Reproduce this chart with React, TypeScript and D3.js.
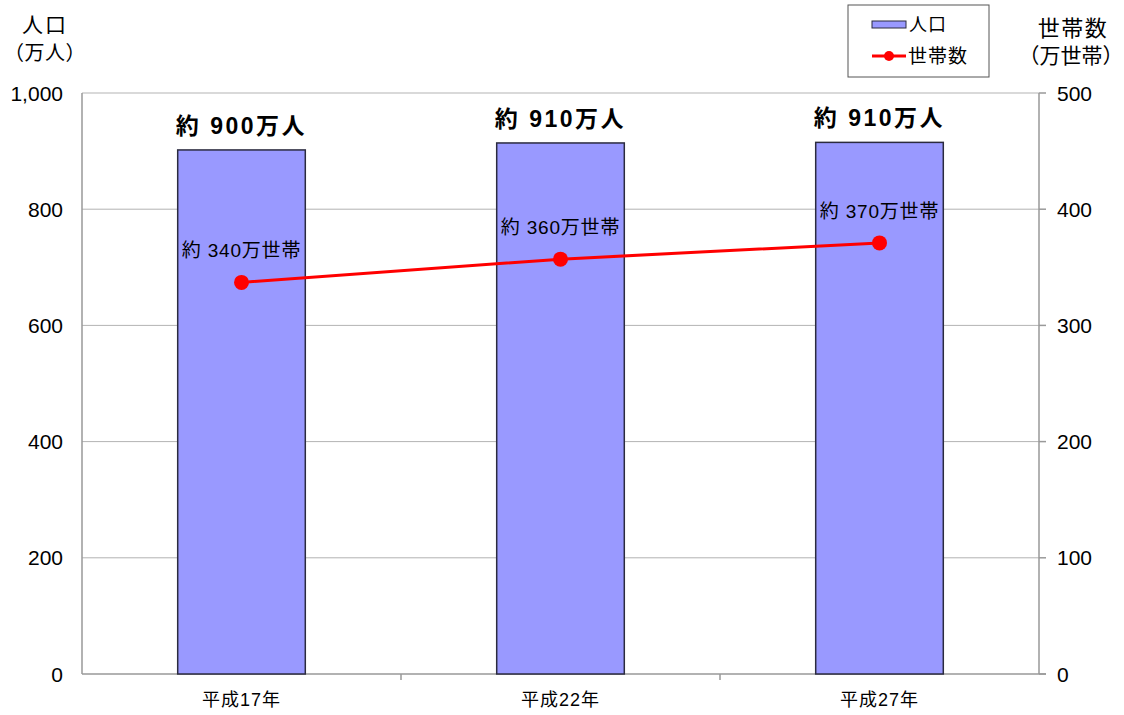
import React from "react";
import * as d3 from "d3";

const categories = ["平成17年", "平成22年", "平成27年"];
const population = [902, 914, 915];
const households = [337, 357, 371];
const popLabels = ["約 900万人", "約 910万人", "約 910万人"];
const hhLabels = ["約 340万世帯", "約 360万世帯", "約 370万世帯"];
const leftTicks = [0, 200, 400, 600, 800, 1000];
const rightTicks = [0, 100, 200, 300, 400, 500];

const W = 1124, H = 715;
const M = { left: 82, right: 1039, top: 93, bottom: 674 };
const FONT = "'Liberation Sans', 'Noto Sans CJK JP', sans-serif";

export default function App() {
  const x = d3.scaleBand<string>().domain(categories).range([M.left, M.right]).paddingInner(0).paddingOuter(0);
  const yL = d3.scaleLinear().domain([0, 1000]).range([M.bottom, M.top]);
  const yR = d3.scaleLinear().domain([0, 500]).range([M.bottom, M.top]);
  const bw = x.bandwidth() * 0.4;
  const cx = (c: string) => (x(c) as number) + x.bandwidth() / 2;
  const line = d3.line<number>().x((_, i) => cx(categories[i])).y((d) => yR(d));
  const fmt = d3.format(",");

  return (
    <svg width={W} height={H} style={{ position: "absolute", left: 0, top: 0, fontFamily: FONT }}>
      <rect x={0} y={0} width={W} height={H} fill="#fff" />
      {/* grid */}
      {leftTicks.filter((t) => t > 0).map((t) => (
        <line key={t} x1={M.left} x2={M.right} y1={yL(t)} y2={yL(t)} stroke="#b3b3b3" strokeWidth={1} />
      ))}
      {/* axes */}
      <line x1={M.left} x2={M.left} y1={M.top} y2={M.bottom} stroke="#999" strokeWidth={1.5} />
      <line x1={M.right} x2={M.right} y1={M.top} y2={M.bottom} stroke="#999" strokeWidth={1.5} />
      <line x1={M.left} x2={M.right + 7} y1={M.bottom} y2={M.bottom} stroke="#999" strokeWidth={1.5} />
      {rightTicks.map((t) => (
        <line key={"rt" + t} x1={M.right} x2={M.right + 7} y1={yR(t)} y2={yR(t)} stroke="#999" strokeWidth={1.5} />
      ))}
      {categories.slice(1).map((c) => (
        <line key={"xt" + c} x1={x(c) as number} x2={x(c) as number} y1={M.bottom} y2={M.bottom + 6} stroke="#999" strokeWidth={1.5} />
      ))}
      {/* tick labels */}
      {leftTicks.map((t) => (
        <text key={"l" + t} x={63} y={yL(t)} dy="0.36em" textAnchor="end" fontSize={21} fill="#000">{fmt(t)}</text>
      ))}
      {rightTicks.map((t) => (
        <text key={"r" + t} x={1057} y={yR(t)} dy="0.36em" textAnchor="start" fontSize={21} fill="#000">{t}</text>
      ))}
      {categories.map((c) => (
        <text key={"c" + c} x={cx(c)} y={706} textAnchor="middle" fontSize={18} letterSpacing={1} fill="#000">{c}</text>
      ))}
      {/* bars */}
      {population.map((v, i) => (
        <rect key={"b" + i} x={cx(categories[i]) - bw / 2} y={yL(v)} width={bw} height={M.bottom - yL(v)} fill="#9999ff" stroke="#2b2b3f" strokeWidth={1.5} />
      ))}
      {population.map((v, i) => (
        <text key={"bl" + i} x={cx(categories[i])} y={yL(v) - 16} textAnchor="middle" fontSize={23} fontWeight="bold" letterSpacing={2.5} fill="#000">{popLabels[i]}</text>
      ))}
      {/* line */}
      <path d={line(households) || ""} fill="none" stroke="#ff0000" strokeWidth={3} />
      {households.map((v, i) => (
        <circle key={"p" + i} cx={cx(categories[i])} cy={yR(v)} r={7.5} fill="#ff0000" />
      ))}
      {households.map((v, i) => (
        <text key={"hl" + i} x={cx(categories[i])} y={yR(v) - 25} textAnchor="middle" fontSize={19} letterSpacing={0.8} fill="#000">{hhLabels[i]}</text>
      ))}
      {/* axis titles */}
      <text x={45} y={32} textAnchor="middle" fontSize={21} letterSpacing={2} fill="#000">人口</text>
      <text x={45} y={60} textAnchor="middle" fontSize={20} letterSpacing={0.5} fill="#000">（万人）</text>
      <text x={1073} y={36} textAnchor="middle" fontSize={22} letterSpacing={1.5} fill="#000">世帯数</text>
      <text x={1071} y={63} textAnchor="middle" fontSize={21} letterSpacing={0} fill="#000">（万世帯）</text>
      {/* legend */}
      <rect x={848} y={5} width={141} height={72} fill="#fff" stroke="#555" strokeWidth={1} />
      <rect x={872} y={21} width={34} height={7} fill="#9999ff" stroke="#2b2b3f" strokeWidth={1} />
      <text x={909} y={25} dy="0.36em" fontSize={18} letterSpacing={1} fill="#000">人口</text>
      <line x1={872} x2={906} y1={56} y2={56} stroke="#ff0000" strokeWidth={3} />
      <circle cx={889} cy={56} r={5} fill="#ff0000" />
      <text x={908} y={56} dy="0.36em" fontSize={19} letterSpacing={1} fill="#000">世帯数</text>
    </svg>
  );
}
